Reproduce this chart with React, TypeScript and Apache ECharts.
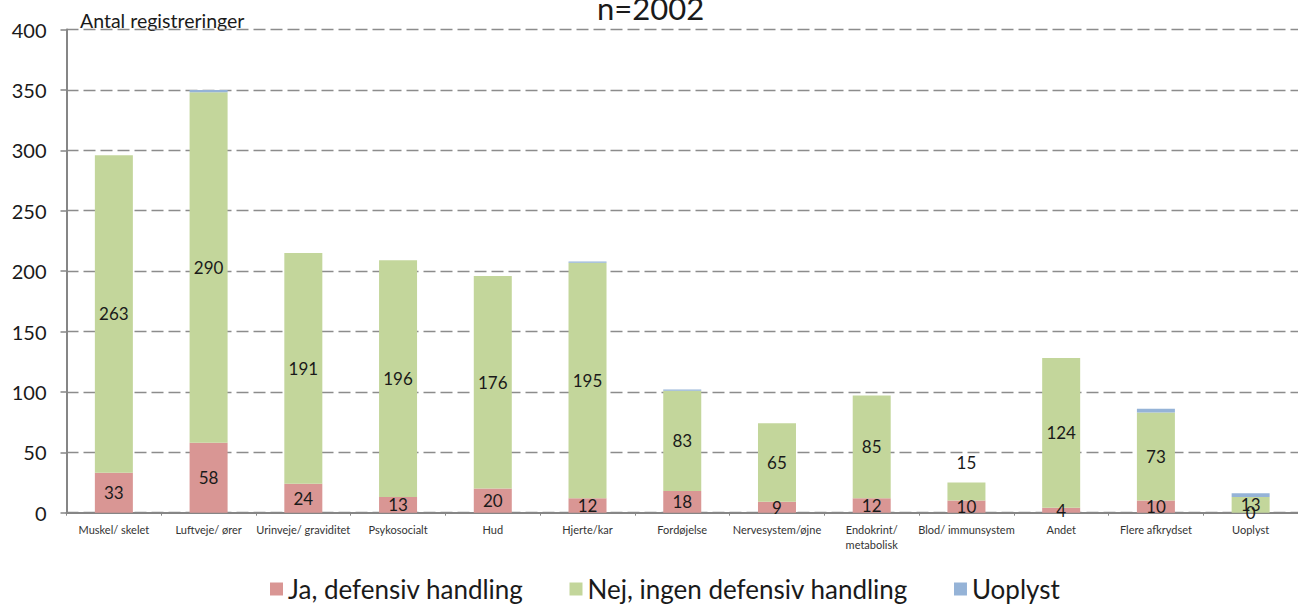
import React, { useEffect, useRef } from "react";
import * as echarts from "echarts";

const categories = [
  "Muskel/ skelet",
  "Luftveje/ ører",
  "Urinveje/ graviditet",
  "Psykosocialt",
  "Hud",
  "Hjerte/kar",
  "Fordøjelse",
  "Nervesystem/øjne",
  "Endokrint/\nmetabolisk",
  "Blod/ immunsystem",
  "Andet",
  "Flere afkrydset",
  "Uoplyst",
];
const jaValues = [33, 58, 24, 13, 20, 12, 18, 9, 12, 10, 4, 10, 0];
const nejValues = [263, 290, 191, 196, 176, 195, 83, 65, 85, 15, 124, 73, 13];
const uoplystValues = [0, 2, 0, 0, 0, 1, 1, 0, 0, 0, 0, 3, 3];
const yTicks = { min: 0, max: 400, interval: 50 };
const seriesNames = ["Ja, defensiv handling", "Nej, ingen defensiv handling", "Uoplyst"];
const titleText = "n=2002";
const yAxisTitle = "Antal registreringer";
// index of the category whose "Nej" label sits above its bar in the original
const raisedLabelIndex = 9;

const FONT = "Lato, 'Noto Sans', sans-serif";

export default function App() {
  const ref = useRef<HTMLDivElement>(null);
  useEffect(() => {
    if (!ref.current) return;
    const chart = echarts.init(ref.current, undefined, { renderer: "svg" });
    const label = {
      show: true,
      position: "inside",
      color: "#1a1a1a",
      fontSize: 17,
      fontFamily: FONT,
    };
    chart.setOption({
      animation: false,
      textStyle: { fontFamily: FONT },
      grid: { left: 66.5, right: -10, top: 29.5, bottom: 91.3, containLabel: false },
      legend: {
        left: 265,
        top: 571,
        icon: "rect",
        itemWidth: 13,
        itemHeight: 13,
        itemGap: 46,
        textStyle: { fontSize: 26, color: "#1a1a1a", fontFamily: FONT },
        data: seriesNames,
      },
      graphic: [
        {
          type: "text",
          left: 597,
          top: -8,
          style: { text: titleText, fontSize: 31, fill: "#1a1a1a", fontFamily: FONT },
        },
        {
          type: "text",
          left: 80,
          top: 10,
          style: { text: yAxisTitle, fontSize: 19.5, fill: "#1a1a1a", fontFamily: FONT },
        },
      ],
      xAxis: {
        type: "category",
        data: categories,
        axisLine: { lineStyle: { color: "#868686", width: 2 } },
        axisTick: { show: true, length: 3, lineStyle: { color: "#868686", width: 1 } },
        axisLabel: {
          interval: 0,
          color: "#333",
          fontSize: 11,
          margin: 9,
          lineHeight: 15,
          fontFamily: FONT,
        },
      },
      yAxis: {
        type: "value",
        min: yTicks.min,
        max: yTicks.max,
        interval: yTicks.interval,
        axisLine: { show: true, lineStyle: { color: "#868686", width: 2 } },
        axisTick: { show: true, length: 6, lineStyle: { color: "#868686", width: 1.5 } },
        axisLabel: { color: "#1a1a1a", fontSize: 20, margin: 20, fontFamily: FONT },
        splitLine: {
          show: true,
          lineStyle: { color: "#8c8c8c", width: 1.3, type: [12, 5] },
        },
      },
      series: [
        {
          name: seriesNames[0],
          type: "bar",
          stack: "total",
          barWidth: 38,
          data: jaValues,
          itemStyle: { color: "#D99694" },
          label,
        },
        {
          name: seriesNames[1],
          type: "bar",
          stack: "total",
          barWidth: 38,
          data: nejValues.map((v, i) =>
            i === raisedLabelIndex
              ? { value: v, label: { position: "top", distance: 12 } }
              : v
          ),
          itemStyle: { color: "#C3D69B" },
          label,
        },
        {
          name: seriesNames[2],
          type: "bar",
          stack: "total",
          barWidth: 38,
          data: uoplystValues,
          itemStyle: { color: "#95B3D7" },
          label: { show: false },
        },
      ],
    });
    return () => chart.dispose();
  }, []);
  return (
    <div
      ref={ref}
      style={{ position: "absolute", left: 0, top: 0, width: 1298, height: 604 }}
    />
  );
}
